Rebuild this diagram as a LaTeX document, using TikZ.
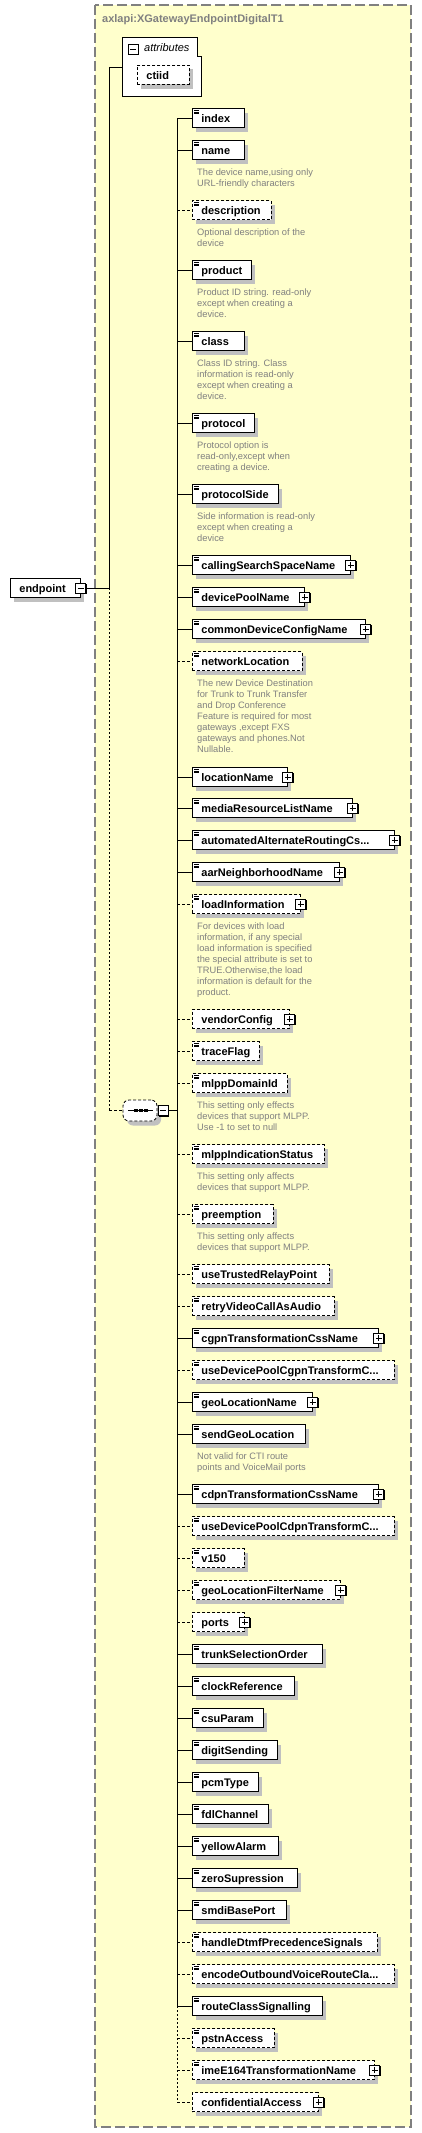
\documentclass[tikz,border=0pt]{standalone}
\usepackage{fontspec}
\setmainfont{Liberation Sans}
\usepackage{tikz}
\usetikzlibrary{arrows.meta}
\usetikzlibrary{shadows}
\pgfdeclarelayer{background}
\pgfsetlayers{background,main}

\definecolor{typebg}{RGB}{255,255,204}
\definecolor{typeframe}{RGB}{128,128,128}
\definecolor{doctext}{RGB}{128,128,128}
\definecolor{shade}{RGB}{192,192,192}

\newcommand{\elfont}{\bfseries\fontsize{11}{13}\selectfont}
\newcommand{\docfont}{\fontsize{9.3}{11}\selectfont}
\newcommand{\ename}[2]{\makebox[#1pt][l]{\hspace{9pt}#2}}

\begin{document}
\begin{tikzpicture}[x=1pt,y=-1pt]
\useasboundingbox (0,0) rectangle (422,2133);
\begin{scope}[every edge/.style={draw=black, line width=0.8pt},
              elem/.style={draw, fill=white, anchor=west, line width=0.8pt,
                  minimum height=19pt, inner sep=0pt, text height=10.5pt,
                  text depth=1.5pt, font=\elfont,
                  general shadow={shadow xshift=4pt, shadow yshift=-4.5pt, fill=shade}},
              opt/.style={elem, dash pattern=on 3pt off 2pt},
              leaf/.style={path picture={
                  \foreach \k in {1.6,3.3,5}
                      \draw[solid, black, line width=0.6pt] ([xshift=2pt,yshift=-\k pt]path picture bounding box.north west) -- ++(5,0);}},
              toggle/.style={draw, fill=white, line width=0.8pt, minimum size=10pt, inner sep=0pt,
                  general shadow={shadow xshift=1.2pt, shadow yshift=-1.2pt, fill=black}},
              plus/.style={toggle, path picture={
                  \draw[solid, black, line width=0.8pt] ([xshift=2pt]path picture bounding box.west) -- ([xshift=-2pt]path picture bounding box.east)
                      ([yshift=-2pt]path picture bounding box.north) -- ([yshift=2pt]path picture bounding box.south);}},
              minus/.style={toggle, path picture={
                  \draw[solid, black, line width=0.8pt] ([xshift=2pt]path picture bounding box.west) -- ([xshift=-2pt]path picture bounding box.east);}},
              seq/.style={draw, fill=white, line width=0.8pt, dash pattern=on 3pt off 2pt, rounded corners=6pt,
                  minimum width=34pt, minimum height=21pt, inner sep=0pt,
                  general shadow={shadow xshift=4pt, shadow yshift=-4.5pt, fill=shade},
                  path picture={
                  \draw[solid, black, sharp corners, line width=0.8pt] ([xshift=5pt]path picture bounding box.west) -- ([xshift=-4pt]path picture bounding box.east);
                  \foreach \d in {-4.5,0.5,5.5}
                      \fill[black, sharp corners] ([xshift=\d pt]path picture bounding box.center) +(-2,-1.6) rectangle +(2,1.6);}},
              doc/.style={anchor=north west, inner sep=0pt, align=left, font=\docfont, text=doctext},
              opt edge/.style={dash pattern=on 3pt off 2pt},
              opt line/.style={dash pattern=on 2pt off 2pt}]
    \coordinate (trunk) at (109,0);
    \coordinate (spine) at (177,0);
    \node[anchor=base west, inner sep=0pt, font=\elfont, text=doctext] (title) at (102,23) {axlapi:XGatewayEndpointDigitalT1};
    % attributes group with its tab
    \node[minimum width=78pt, minimum height=58pt, inner sep=0pt] (T) at (162,67) {};
    \draw[fill=white, line width=0.8pt] (T.north west) -- ([xshift=-4pt]T.north east)
        -- ([xshift=-4pt,yshift=-19pt]T.north east) -- ([yshift=-19pt]T.north east)
        -- (T.south east) -- (T.south west) -- cycle;
    \node[minus] (Tm) at (133,49) {};
    \node[anchor=base west, inner sep=0pt, font=\itshape\fontsize{11}{13}\selectfont] (Tl) at (144,52) {attributes};
    \node[opt] (ctiid) at (137,74.5) {\ename{52}{ctiid}};
    \node[elem] (E) at (10,588) {\ename{70}{endpoint}};
    \node[minus] (Em) at (E.east) {};
    \node[seq] (S) at (140,1110.5) {};
    \node[minus] (Sm) at ([xshift=5.5pt]S.east) {};
    \node[elem, leaf] (c1) at (192,118) {\ename{52}{index}};
    \node[elem, leaf] (c2) at (192,150) {\ename{52}{name}};
    \node[opt, leaf] (c3) at (192,210) {\ename{79}{description}};
    \node[elem, leaf] (c4) at (192,270) {\ename{59}{product}};
    \node[elem, leaf] (c5) at (192,341) {\ename{52}{class}};
    \node[elem, leaf] (c6) at (192,423) {\ename{62}{protocol}};
    \node[elem, leaf] (c7) at (192,494) {\ename{86}{protocolSide}};
    \node[elem, leaf] (c8) at (192,565) {\ename{158}{callingSearchSpaceName}};
    \node[elem, leaf] (c9) at (192,597) {\ename{112}{devicePoolName}};
    \node[elem, leaf] (c10) at (192,629) {\ename{173}{commonDeviceConfigName}};
    \node[opt, leaf] (c11) at (192,661) {\ename{110}{networkLocation}};
    \node[elem, leaf] (c12) at (192,777) {\ename{95}{locationName}};
    \node[elem, leaf] (c13) at (192,808) {\ename{160}{mediaResourceListName}};
    \node[elem, leaf] (c14) at (192,840) {\ename{202}{automatedAlternateRoutingCs...}};
    \node[elem, leaf] (c15) at (192,872) {\ename{147}{aarNeighborhoodName}};
    \node[opt, leaf] (c16) at (192,904) {\ename{108}{loadInformation}};
    \node[opt] (c17) at (192,1019) {\ename{97}{vendorConfig}};
    \node[opt, leaf] (c18) at (192,1051) {\ename{67}{traceFlag}};
    \node[opt, leaf] (c19) at (192,1083) {\ename{95}{mlppDomainId}};
    \node[opt, leaf] (c20) at (192,1154) {\ename{132}{mlppIndicationStatus}};
    \node[opt, leaf] (c21) at (192,1214) {\ename{81}{preemption}};
    \node[opt, leaf] (c22) at (192,1274) {\ename{137}{useTrustedRelayPoint}};
    \node[opt, leaf] (c23) at (192,1306) {\ename{142}{retryVideoCallAsAudio}};
    \node[elem, leaf] (c24) at (192,1338) {\ename{186}{cgpnTransformationCssName}};
    \node[opt, leaf] (c25) at (192,1370) {\ename{202}{useDevicePoolCgpnTransformC...}};
    \node[elem, leaf] (c26) at (192,1402) {\ename{120}{geoLocationName}};
    \node[elem, leaf] (c27) at (192,1434) {\ename{113}{sendGeoLocation}};
    \node[elem, leaf] (c28) at (192,1494) {\ename{186}{cdpnTransformationCssName}};
    \node[opt, leaf] (c29) at (192,1526) {\ename{202}{useDevicePoolCdpnTransformC...}};
    \node[opt, leaf] (c30) at (192,1558) {\ename{52}{v150}};
    \node[opt, leaf] (c31) at (192,1590) {\ename{148}{geoLocationFilterName}};
    \node[opt] (c32) at (192,1622) {\ename{52}{ports}};
    \node[elem, leaf] (c33) at (192,1654) {\ename{130}{trunkSelectionOrder}};
    \node[elem, leaf] (c34) at (192,1686) {\ename{102}{clockReference}};
    \node[elem, leaf] (c35) at (192,1718) {\ename{71}{csuParam}};
    \node[elem, leaf] (c36) at (192,1750) {\ename{85}{digitSending}};
    \node[elem, leaf] (c37) at (192,1782) {\ename{66}{pcmType}};
    \node[elem, leaf] (c38) at (192,1814) {\ename{76}{fdlChannel}};
    \node[elem, leaf] (c39) at (192,1846) {\ename{86}{yellowAlarm}};
    \node[elem, leaf] (c40) at (192,1878) {\ename{105}{zeroSupression}};
    \node[elem, leaf] (c41) at (192,1910) {\ename{94}{smdiBasePort}};
    \node[opt, leaf] (c42) at (192,1942) {\ename{185}{handleDtmfPrecedenceSignals}};
    \node[opt, leaf] (c43) at (192,1974) {\ename{202}{encodeOutboundVoiceRouteCla...}};
    \node[elem, leaf] (c44) at (192,2006) {\ename{130}{routeClassSignalling}};
    \node[opt, leaf] (c45) at (192,2038) {\ename{82}{pstnAccess}};
    \node[opt, leaf] (c46) at (192,2070) {\ename{182}{imeE164TransformationName}};
    \node[opt] (c47) at (192,2102) {\ename{126}{confidentialAccess}};
    % expand boxes sit on the right edge
    \node[plus] (p8) at (c8.east) {};
    \node[plus] (p9) at (c9.east) {};
    \node[plus] (p10) at (c10.east) {};
    \node[plus] (p12) at (c12.east) {};
    \node[plus] (p13) at (c13.east) {};
    \node[plus] (p14) at (c14.east) {};
    \node[plus] (p15) at (c15.east) {};
    \node[plus] (p16) at (c16.east) {};
    \node[plus] (p17) at (c17.east) {};
    \node[plus] (p24) at (c24.east) {};
    \node[plus] (p26) at (c26.east) {};
    \node[plus] (p28) at (c28.east) {};
    \node[plus] (p31) at (c31.east) {};
    \node[plus] (p32) at (c32.east) {};
    \node[plus] (p46) at (c46.east) {};
    \node[plus] (p47) at (c47.east) {};
    % annotations
    \node[doc] (d2) at ([xshift=5pt,yshift=-7.8pt]c2.south west) {\strut The device name,using only\\URL-friendly characters};
    \node[doc] (d3) at ([xshift=5pt,yshift=-7.8pt]c3.south west) {\strut Optional description of the\\device};
    \node[doc] (d4) at ([xshift=5pt,yshift=-7.8pt]c4.south west) {\strut Product ID string. read-only\\except when creating a\\device.};
    \node[doc] (d5) at ([xshift=5pt,yshift=-7.8pt]c5.south west) {\strut Class ID string. Class\\information is read-only\\except when creating a\\device.};
    \node[doc] (d6) at ([xshift=5pt,yshift=-7.8pt]c6.south west) {\strut Protocol option is\\read-only,except when\\creating a device.};
    \node[doc] (d7) at ([xshift=5pt,yshift=-7.8pt]c7.south west) {\strut Side information is read-only\\except when creating a\\device};
    \node[doc] (d11) at ([xshift=5pt,yshift=-7.8pt]c11.south west) {\strut The new Device Destination\\for Trunk to Trunk Transfer\\and Drop Conference\\Feature is required for most\\gateways ,except FXS\\gateways and phones.Not\\Nullable.};
    \node[doc] (d16) at ([xshift=5pt,yshift=-7.8pt]c16.south west) {\strut For devices with load\\information, if any special\\load information is specified\\the special attribute is set to\\TRUE.Otherwise,the load\\information is default for the\\product.};
    \node[doc] (d19) at ([xshift=5pt,yshift=-7.8pt]c19.south west) {\strut This setting only effects\\devices that support MLPP.\\Use -1 to set to null};
    \node[doc] (d20) at ([xshift=5pt,yshift=-7.8pt]c20.south west) {\strut This setting only affects\\devices that support MLPP.};
    \node[doc] (d21) at ([xshift=5pt,yshift=-7.8pt]c21.south west) {\strut This setting only affects\\devices that support MLPP.};
    \node[doc] (d27) at ([xshift=5pt,yshift=-7.8pt]c27.south west) {\strut Not valid for CTI route\\points and VoiceMail ports};
    % left trunk and the sequence spine
    \draw[line width=0.8pt] (T -| trunk) -- (E -| trunk);
    \draw[line width=0.8pt, opt line] (E -| trunk) -- (S -| trunk);
    \path (T -| trunk) edge (T);
    \path (Em) edge (Em -| trunk);
    \path (S -| trunk) edge[opt edge] (S);
    \path (Sm) edge (Sm -| spine);
    \draw[line width=0.8pt] (c1 -| spine) -- (c44 -| spine);
    \draw[line width=0.8pt, opt line] (c44 -| spine) -- (c47 -| spine);
    \path (c1 -| spine) edge (c1);
    \path (c2 -| spine) edge (c2);
    \path (c3 -| spine) edge[opt edge] (c3);
    \path (c4 -| spine) edge (c4);
    \path (c5 -| spine) edge (c5);
    \path (c6 -| spine) edge (c6);
    \path (c7 -| spine) edge (c7);
    \path (c8 -| spine) edge (c8);
    \path (c9 -| spine) edge (c9);
    \path (c10 -| spine) edge (c10);
    \path (c11 -| spine) edge[opt edge] (c11);
    \path (c12 -| spine) edge (c12);
    \path (c13 -| spine) edge (c13);
    \path (c14 -| spine) edge (c14);
    \path (c15 -| spine) edge (c15);
    \path (c16 -| spine) edge[opt edge] (c16);
    \path (c17 -| spine) edge[opt edge] (c17);
    \path (c18 -| spine) edge[opt edge] (c18);
    \path (c19 -| spine) edge[opt edge] (c19);
    \path (c20 -| spine) edge[opt edge] (c20);
    \path (c21 -| spine) edge[opt edge] (c21);
    \path (c22 -| spine) edge[opt edge] (c22);
    \path (c23 -| spine) edge[opt edge] (c23);
    \path (c24 -| spine) edge (c24);
    \path (c25 -| spine) edge[opt edge] (c25);
    \path (c26 -| spine) edge (c26);
    \path (c27 -| spine) edge (c27);
    \path (c28 -| spine) edge (c28);
    \path (c29 -| spine) edge[opt edge] (c29);
    \path (c30 -| spine) edge[opt edge] (c30);
    \path (c31 -| spine) edge[opt edge] (c31);
    \path (c32 -| spine) edge[opt edge] (c32);
    \path (c33 -| spine) edge (c33);
    \path (c34 -| spine) edge (c34);
    \path (c35 -| spine) edge (c35);
    \path (c36 -| spine) edge (c36);
    \path (c37 -| spine) edge (c37);
    \path (c38 -| spine) edge (c38);
    \path (c39 -| spine) edge (c39);
    \path (c40 -| spine) edge (c40);
    \path (c41 -| spine) edge (c41);
    \path (c42 -| spine) edge[opt edge] (c42);
    \path (c43 -| spine) edge[opt edge] (c43);
    \path (c44 -| spine) edge (c44);
    \path (c45 -| spine) edge[opt edge] (c45);
    \path (c46 -| spine) edge[opt edge] (c46);
    \path (c47 -| spine) edge[opt edge] (c47);
\end{scope}
% The complex type frame goes behind everything.
\begin{pgfonlayer}{background}
    \draw[typeframe, fill=typebg, line width=1.2pt, dash pattern=on 10pt off 4pt]
        (95,5) rectangle (411,2127);
\end{pgfonlayer}
\end{tikzpicture}
\end{document}
